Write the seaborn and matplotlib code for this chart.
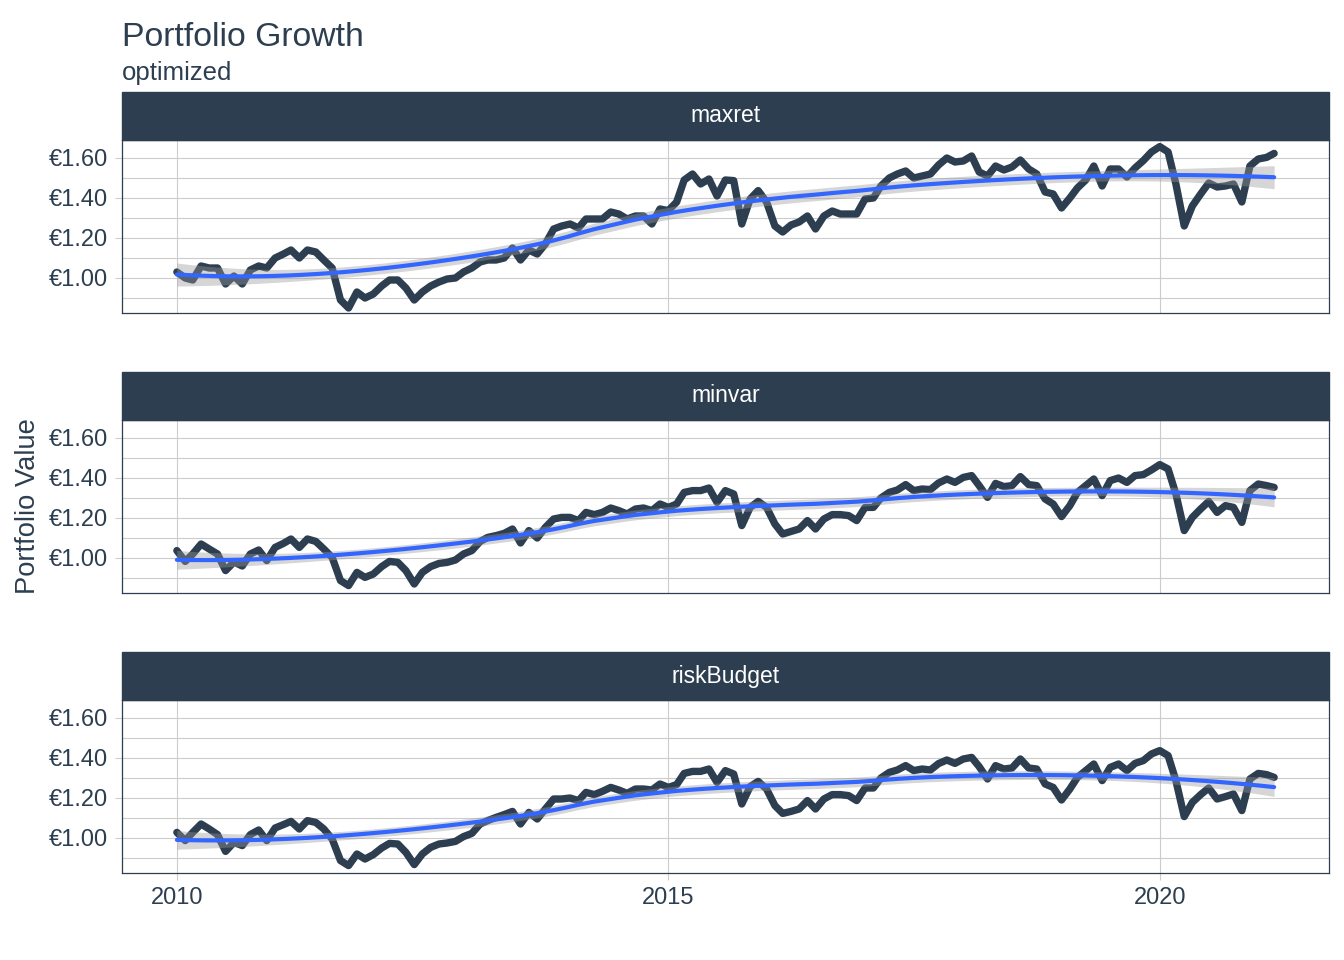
import numpy as np
import pandas as pd
import matplotlib
matplotlib.use("Agg")
import matplotlib.pyplot as plt
import matplotlib.dates as mdates
import matplotlib.ticker as mticker
from matplotlib.patches import Rectangle
import seaborn as sns

# --- Portfolio growth of the three optimized portfolios (monthly, Jan 2010 - Mar 2021) ---

DATES = pd.date_range("2010-01-01", periods=135, freq="MS")
PORTFOLIOS = ["maxret", "minvar", "riskBudget"]

maxret = [
    1.03, 1.00, 0.99, 1.06, 1.05, 1.05, 0.97, 1.01, 0.97, 1.04,
    1.06, 1.05, 1.10, 1.12, 1.14, 1.10, 1.14, 1.13, 1.09, 1.05,
    0.89, 0.85, 0.93, 0.90, 0.92, 0.96, 0.99, 0.99, 0.95, 0.89,
    0.93, 0.96, 0.98, 0.995, 1.00, 1.03, 1.05, 1.08, 1.09, 1.09,
    1.10, 1.15, 1.09, 1.14, 1.12, 1.17, 1.245, 1.26, 1.27, 1.25,
    1.295, 1.295, 1.295, 1.33, 1.32, 1.295, 1.31, 1.31, 1.27, 1.345,
    1.337, 1.38, 1.49, 1.52, 1.47, 1.495, 1.41, 1.49, 1.487, 1.27,
    1.395, 1.437, 1.38, 1.26, 1.23, 1.265, 1.28, 1.31, 1.245, 1.31,
    1.335, 1.32, 1.32, 1.32, 1.395, 1.40, 1.46, 1.50, 1.52, 1.535,
    1.50, 1.51, 1.52, 1.565, 1.60, 1.58, 1.585, 1.61, 1.53, 1.51,
    1.56, 1.54, 1.555, 1.59, 1.545, 1.52, 1.43, 1.42, 1.35, 1.40,
    1.45, 1.49, 1.56, 1.46, 1.545, 1.545, 1.505, 1.55, 1.587, 1.63,
    1.657, 1.63, 1.47, 1.26, 1.36, 1.42, 1.475, 1.455, 1.46, 1.47,
    1.38, 1.56, 1.595, 1.603, 1.623,
]

minvar = [
    1.037, 0.983, 1.02, 1.07, 1.045, 1.02, 0.937, 0.98, 0.96, 1.02,
    1.04, 0.987, 1.053, 1.073, 1.095, 1.053, 1.095, 1.083, 1.045, 1.003,
    0.887, 0.862, 0.928, 0.903, 0.92, 0.957, 0.983, 0.978, 0.937, 0.87,
    0.928, 0.957, 0.973, 0.978, 0.99, 1.02, 1.037, 1.083, 1.103, 1.112,
    1.123, 1.145, 1.075, 1.137, 1.10, 1.153, 1.195, 1.203, 1.203, 1.187,
    1.228, 1.217, 1.228, 1.25, 1.237, 1.22, 1.245, 1.25, 1.237, 1.27,
    1.253, 1.27, 1.328, 1.337, 1.337, 1.35, 1.278, 1.337, 1.32, 1.162,
    1.253, 1.283, 1.253, 1.17, 1.12, 1.133, 1.145, 1.187, 1.145, 1.195,
    1.217, 1.217, 1.212, 1.187, 1.253, 1.253, 1.30, 1.328, 1.34, 1.367,
    1.337, 1.345, 1.342, 1.375, 1.395, 1.378, 1.403, 1.412, 1.362, 1.303,
    1.373, 1.357, 1.362, 1.407, 1.367, 1.362, 1.295, 1.27, 1.207, 1.262,
    1.328, 1.362, 1.395, 1.312, 1.387, 1.40, 1.378, 1.412, 1.417, 1.44,
    1.467, 1.445, 1.32, 1.137, 1.203, 1.245, 1.283, 1.228, 1.262, 1.253,
    1.178, 1.337, 1.37, 1.362, 1.353,
]

riskBudget = [
    1.028, 0.987, 1.028, 1.07, 1.045, 1.017, 0.933, 0.978, 0.962, 1.017,
    1.04, 0.987, 1.05, 1.067, 1.083, 1.045, 1.087, 1.078, 1.045, 0.995,
    0.887, 0.862, 0.92, 0.895, 0.917, 0.95, 0.973, 0.97, 0.928, 0.867,
    0.92, 0.953, 0.97, 0.975, 0.983, 1.007, 1.023, 1.07, 1.087, 1.103,
    1.117, 1.133, 1.07, 1.128, 1.095, 1.145, 1.195, 1.195, 1.20, 1.187,
    1.228, 1.217, 1.233, 1.253, 1.24, 1.223, 1.245, 1.245, 1.24, 1.27,
    1.253, 1.267, 1.323, 1.333, 1.333, 1.345, 1.278, 1.337, 1.32, 1.17,
    1.257, 1.283, 1.245, 1.162, 1.123, 1.133, 1.145, 1.187, 1.145, 1.195,
    1.217, 1.217, 1.212, 1.187, 1.25, 1.25, 1.30, 1.328, 1.34, 1.362,
    1.337, 1.345, 1.34, 1.372, 1.39, 1.373, 1.395, 1.403, 1.357, 1.295,
    1.362, 1.345, 1.35, 1.395, 1.35, 1.345, 1.27, 1.253, 1.19, 1.245,
    1.303, 1.337, 1.37, 1.287, 1.353, 1.37, 1.337, 1.373, 1.387, 1.42,
    1.437, 1.412, 1.287, 1.107, 1.178, 1.217, 1.25, 1.195, 1.207, 1.22,
    1.137, 1.295, 1.323, 1.317, 1.303,
]

df = pd.DataFrame({
    "date": np.tile(DATES, 3),
    "portfolio": np.repeat(PORTFOLIOS, len(DATES)),
    "value": maxret + minvar + riskBudget,
})


def loess(t, y, t_new, span=0.75):
    # local quadratic regression with tricube weights (like R's loess default)
    n = len(t)
    q = int(np.floor(n * span))

    def row(t0):
        d = np.abs(t - t0)
        h = np.sort(d)[q - 1]
        w = np.clip(1 - (d / h) ** 3, 0, None) ** 3
        X = np.column_stack([np.ones(n), t - t0, (t - t0) ** 2])
        XtW = X.T * w
        return np.linalg.solve(XtW @ X, XtW)[0]

    L = np.array([row(t0) for t0 in t])
    L_new = np.array([row(t0) for t0 in t_new])
    resid = y - L @ y
    M = np.eye(n) - L
    delta1 = np.trace(M.T @ M)
    sigma = np.sqrt(resid @ resid / delta1)
    fit = L_new @ y
    se = sigma * np.sqrt((L_new ** 2).sum(axis=1))
    return fit, se


sns.set_theme(style="white")
plt.rcParams["font.family"] = ["Liberation Sans", "DejaVu Sans"]

DARK = "#2C3E50"
GRID = "#CCCCCC"
W_PX, H_PX = 1344, 960

fig = plt.figure(figsize=(W_PX / 100, H_PX / 100), dpi=100)

left = 122 / W_PX
width = (1329 - 122) / W_PX
panel_h = 173 / H_PX
strip_h = 48 / 173
bottoms = [(H_PX - 313) / H_PX, (H_PX - 593) / H_PX, (H_PX - 873) / H_PX]

x_num = mdates.date2num(DATES)
x0, x1 = x_num[0], x_num[-1]
pad = 0.05 * (x1 - x0)
grid_num = np.linspace(x0, x1, 80)
t = (x_num - x0) / 365.25
t_grid = (grid_num - x0) / 365.25

for i, name in enumerate(PORTFOLIOS):
    ax = fig.add_axes([left, bottoms[i], width, panel_h])
    sub = df[df["portfolio"] == name]

    sns.lineplot(data=sub, x="date", y="value", ax=ax, color=DARK,
                 linewidth=5.3, solid_joinstyle="round", zorder=2)

    fit, se = loess(t, sub["value"].to_numpy(), t_grid)
    grid_dates = mdates.num2date(grid_num)
    ax.fill_between(grid_dates, fit - 1.98 * se, fit + 1.98 * se,
                    color="#999999", alpha=0.4, linewidth=0, zorder=3)
    ax.plot(grid_dates, fit, color="#3366FF", linewidth=3.0, zorder=4)

    ax.set_xlim(x0 - pad, x1 + pad)
    ax.set_ylim(0.825, 1.69)
    ax.yaxis.set_major_locator(mticker.FixedLocator([1.0, 1.2, 1.4, 1.6]))
    ax.yaxis.set_minor_locator(mticker.FixedLocator([0.9, 1.1, 1.3, 1.5, 1.7]))
    ax.yaxis.set_major_formatter(mticker.FuncFormatter(lambda v, p: f"€{v:.2f}"))
    ax.xaxis.set_major_locator(mdates.YearLocator(5))
    ax.xaxis.set_major_formatter(mdates.DateFormatter("%Y"))

    ax.grid(True, which="major", color=GRID, linewidth=0.8)
    ax.grid(True, which="minor", axis="y", color=GRID, linewidth=0.8)
    ax.set_axisbelow(True)
    ax.set_xlabel("")
    ax.set_ylabel("")

    for side in ["left", "right", "bottom", "top"]:
        ax.spines[side].set_color(DARK)
        ax.spines[side].set_linewidth(0.9)

    ax.tick_params(axis="y", which="major", left=True, length=5, width=0.8,
                   color=GRID, labelsize=17, labelcolor=DARK, pad=5)
    ax.tick_params(axis="y", which="minor", left=False)
    if i == len(PORTFOLIOS) - 1:
        ax.tick_params(axis="x", bottom=True, length=5, width=0.8, color=GRID,
                       labelsize=17, labelcolor=DARK, pad=5)
    else:
        ax.tick_params(axis="x", bottom=False, labelbottom=False)

    # facet strip
    ax.add_patch(Rectangle((0, 1), 1, strip_h, transform=ax.transAxes,
                           facecolor=DARK, edgecolor=DARK, clip_on=False, zorder=5))
    ax.text(0.5, 1 + strip_h / 2, name, transform=ax.transAxes, ha="center",
            va="center", color="white", fontsize=16.5, zorder=6)

fig.text(left, 1 - 46 / H_PX, "Portfolio Growth", fontsize=24.3, color=DARK, va="baseline")
fig.text(left, 1 - 80 / H_PX, "optimized", fontsize=18.5, color=DARK, va="baseline")
fig.text(28 / W_PX, 1 - 506 / H_PX, "Portfolio Value", rotation=90, ha="center",
         va="center", fontsize=19.7, color=DARK)

fig.savefig("out.png", dpi=100)
plt.close(fig)
